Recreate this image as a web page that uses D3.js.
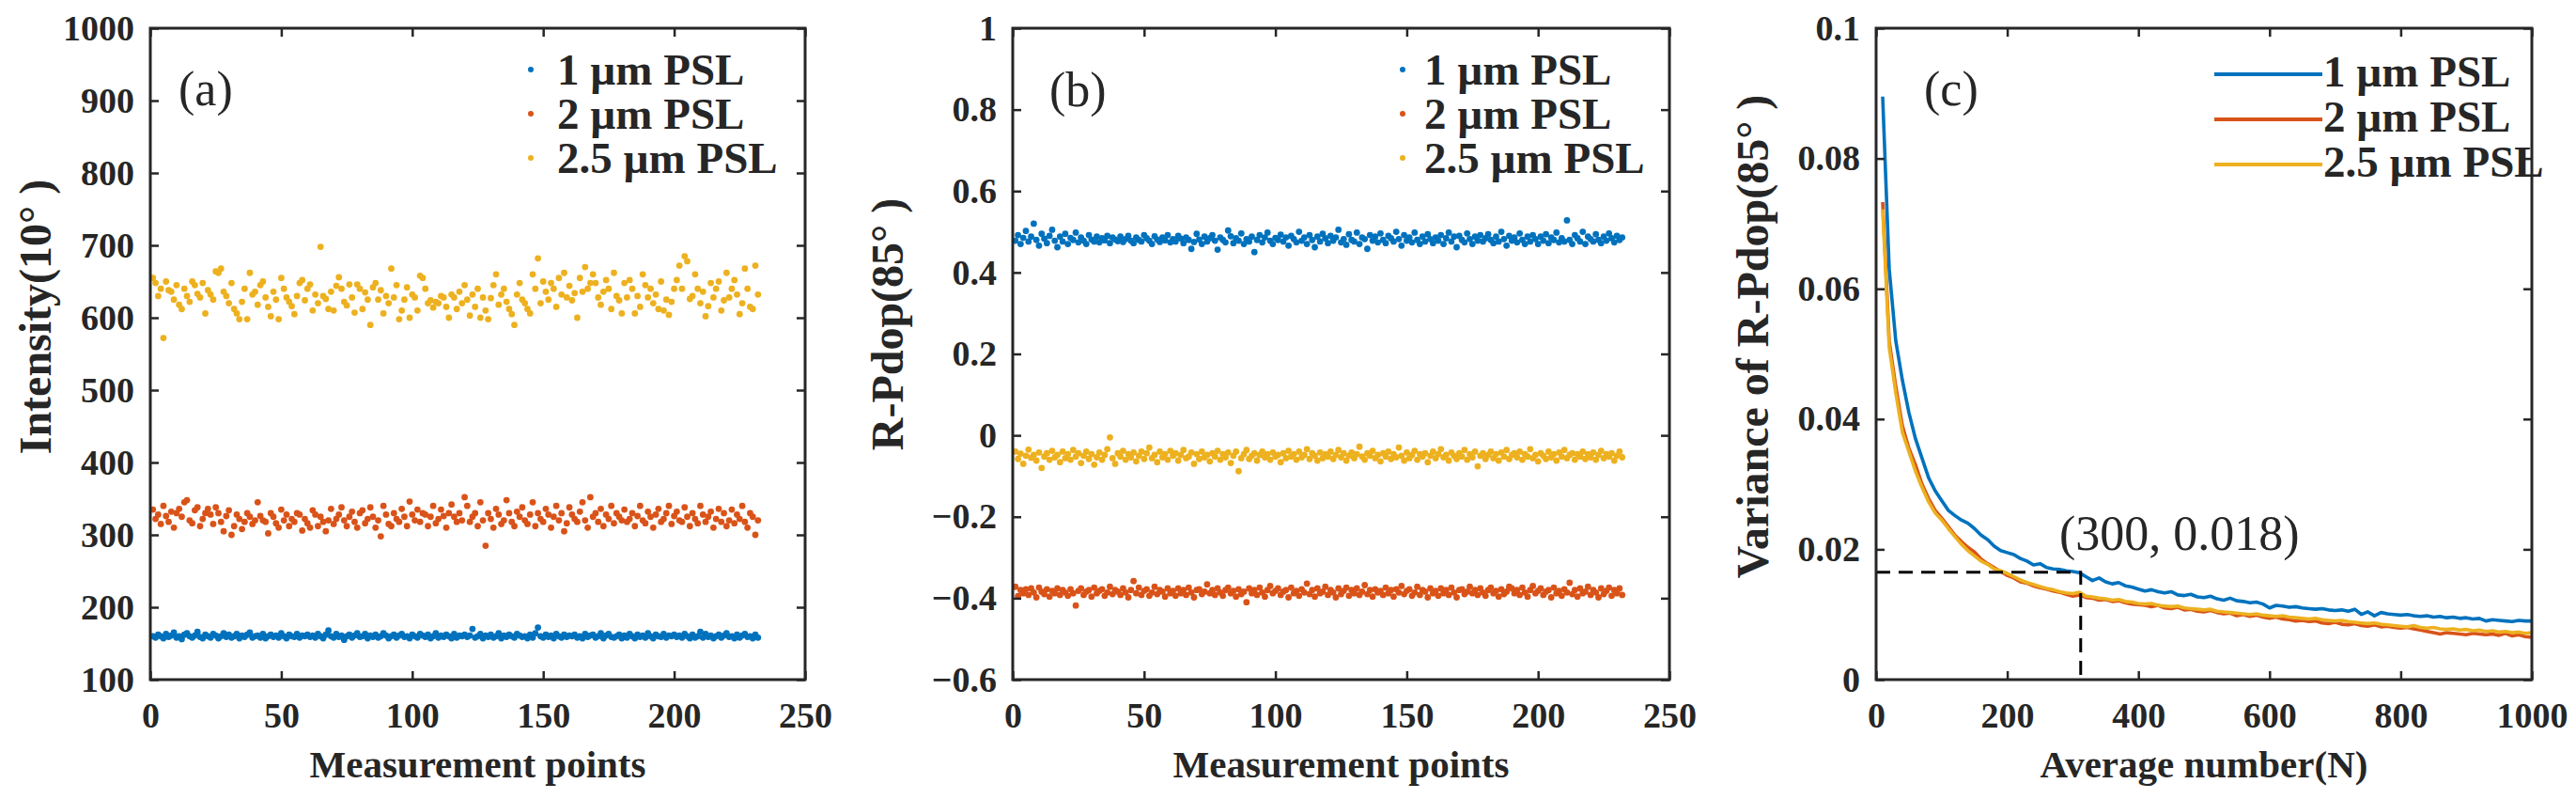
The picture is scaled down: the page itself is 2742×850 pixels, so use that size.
<!DOCTYPE html>
<html lang="en">
<head>
<meta charset="utf-8">
<title>PSL intensity, R-Pdop and variance</title>
<script src="https://d3js.org/d3.v7.min.js"></script>
<style>
  body{margin:0;background:#fff;}
  svg text{font-family:"Liberation Serif","Times New Roman",serif;fill:#262626;}
</style>
</head>
<body>
<svg id="fig" width="2742" height="850"></svg>
<script>
// ---------- data ----------
var seriesNames = ["1 µm PSL", "2 µm PSL", "2.5 µm PSL"]
var seriesColors = ["#0072BD", "#D95319", "#EDB120"]

// (a) Intensity(10°) per measurement point
var intensity1 = [160,158,162,160,157,163,159,161,165,158,160,156,162,164,160,158,161,166,159,157,
  162,160,158,163,161,157,160,164,159,162,158,160,163,157,161,159,162,165,158,160,
  161,158,163,157,160,162,159,161,158,164,160,157,162,160,159,163,158,161,160,162,
  159,161,158,163,160,157,162,168,160,158,163,159,161,155,160,162,158,161,164,159,
  160,163,157,161,159,162,158,160,164,161,157,160,162,158,161,163,159,160,157,162,
  160,158,163,161,159,162,157,160,164,158,161,159,162,160,157,163,158,161,160,162,
  159,161,170,158,160,163,157,161,159,162,158,160,164,157,161,159,162,160,158,163,
  161,159,160,157,162,158,164,172,160,158,162,159,161,157,163,160,158,162,159,161,
  160,162,158,160,157,163,159,161,162,158,160,164,157,161,163,159,158,160,162,157,
  161,158,163,160,157,162,159,161,158,164,160,157,162,160,159,163,158,161,160,162,
  159,161,158,163,160,157,162,158,160,166,158,163,159,161,157,160,162,158,161,164,
  159,160,157,162,158,161,163,159,160,157,162,158]
var intensity2 = [335,322,328,315,340,326,318,332,310,330,336,325,345,348,320,316,334,338,312,322,
  330,336,328,315,338,330,318,305,326,334,300,312,328,322,308,318,330,325,315,320,
  345,326,320,318,302,330,325,316,310,335,320,328,312,322,318,330,328,306,322,316,
  310,334,328,312,325,318,305,320,336,315,322,328,338,320,312,325,332,318,310,330,
  334,316,322,338,325,310,320,298,340,328,315,312,330,322,318,336,325,312,346,328,
  320,335,318,330,328,312,325,340,316,322,335,326,310,330,342,325,318,330,320,352,
  340,318,325,330,312,345,320,285,330,322,310,336,328,315,320,348,330,318,312,332,
  325,338,320,315,328,345,312,330,322,318,336,328,310,325,340,320,330,305,316,338,
  328,322,318,332,345,320,310,352,325,330,318,336,312,328,322,340,316,330,325,320,
  335,318,322,330,312,326,340,320,316,332,325,310,328,336,318,322,330,340,315,326,
  332,320,318,338,325,312,330,322,316,340,328,318,325,332,310,322,336,318,330,312,
  320,335,316,328,322,340,318,310,330,325,300,320]
var intensity3 = [655,648,630,640,572,650,638,636,625,645,618,612,640,630,622,650,645,633,628,648,
  606,638,632,625,664,662,668,636,630,620,648,612,606,598,622,640,598,662,632,636,
  618,645,650,628,615,602,636,625,598,655,640,628,622,616,605,630,648,652,624,640,
  646,610,632,620,698,630,626,612,636,610,644,656,640,622,617,646,628,607,646,640,
  612,635,625,590,642,648,625,638,606,630,620,668,628,645,598,610,625,642,600,632,
  628,610,658,655,640,620,624,614,622,620,630,628,615,600,632,628,612,636,620,645,
  625,603,632,615,640,600,628,610,598,627,645,660,618,632,640,622,612,605,590,632,
  648,625,620,612,606,660,640,682,620,650,636,625,648,640,615,655,632,662,628,644,
  624,634,600,655,636,670,640,648,660,648,628,618,636,652,640,612,662,630,624,606,
  648,628,652,640,606,630,615,660,645,628,640,620,632,612,650,610,625,604,622,640,
  652,672,640,685,678,626,630,660,640,620,636,602,616,648,628,640,650,610,624,662,
  628,640,652,632,605,620,668,640,615,612,672,632]

// (b) R-Pdop(85°) per measurement point
var pdop1 = [.478,.492,.470,.485,.502,.476,.488,.520,.480,.466,.495,.483,.472,.490,.505,.478,.462,.488,.476,.495,
  .470,.485,.480,.498,.474,.486,.478,.470,.492,.481,.476,.488,.474,.484,.479,.490,.472,.486,.481,.477,
  .488,.475,.482,.490,.478,.472,.486,.480,.476,.492,.484,.478,.470,.489,.481,.475,.486,.479,.492,.474,
  .482,.476,.490,.483,.472,.486,.480,.458,.475,.495,.481,.470,.488,.476,.484,.492,.478,.456,.486,.480,
  .474,.503,.489,.472,.484,.478,.496,.470,.482,.476,.488,.450,.480,.492,.474,.486,.498,.478,.470,.485,
  .480,.493,.476,.486,.466,.490,.482,.474,.500,.478,.486,.470,.492,.480,.462,.488,.476,.495,.484,.472,
  .490,.478,.486,.505,.474,.482,.468,.494,.480,.476,.498,.470,.486,.482,.458,.492,.478,.488,.474,.496,
  .480,.472,.490,.484,.476,.500,.482,.466,.492,.478,.486,.474,.498,.480,.470,.488,.476,.494,.482,.472,
  .486,.478,.492,.470,.484,.498,.476,.488,.462,.490,.480,.474,.496,.482,.470,.488,.478,.492,.476,.484,
  .494,.480,.472,.488,.476,.500,.482,.466,.490,.478,.486,.474,.496,.480,.470,.488,.476,.492,.482,.470,
  .488,.478,.494,.472,.486,.480,.498,.474,.484,.476,.528,.480,.470,.492,.484,.476,.500,.470,.488,.482,
  .476,.494,.480,.472,.488,.478,.496,.484,.474,.490,.480,.486]
var pdop2 = [-.372,-.395,-.380,-.388,-.378,-.392,-.376,-.386,-.398,-.374,-.384,-.390,-.378,-.396,-.382,-.388,-.376,-.392,-.380,-.386,
  -.394,-.378,-.388,-.418,-.382,-.376,-.392,-.384,-.380,-.396,-.374,-.388,-.382,-.378,-.394,-.386,-.372,-.390,-.380,-.384,
  -.392,-.376,-.386,-.398,-.380,-.358,-.388,-.374,-.392,-.382,-.378,-.394,-.386,-.372,-.390,-.380,-.384,-.396,-.376,-.388,
  -.382,-.394,-.376,-.388,-.380,-.392,-.374,-.386,-.398,-.380,-.378,-.390,-.384,-.366,-.388,-.380,-.392,-.376,-.386,-.394,
  -.380,-.374,-.388,-.382,-.396,-.378,-.390,-.384,-.410,-.376,-.388,-.380,-.392,-.374,-.386,-.396,-.380,-.370,-.388,-.382,
  -.376,-.392,-.384,-.380,-.398,-.374,-.388,-.382,-.394,-.378,-.386,-.364,-.390,-.380,-.396,-.376,-.388,-.384,-.372,-.392,
  -.380,-.386,-.398,-.376,-.390,-.382,-.374,-.394,-.380,-.388,-.376,-.392,-.384,-.368,-.390,-.380,-.396,-.378,-.386,-.382,
  -.392,-.374,-.388,-.380,-.396,-.378,-.386,-.370,-.390,-.382,-.378,-.394,-.386,-.372,-.392,-.380,-.384,-.398,-.376,-.388,
  -.382,-.394,-.376,-.388,-.380,-.392,-.374,-.386,-.398,-.380,-.378,-.390,-.384,-.372,-.388,-.380,-.392,-.376,-.386,-.394,
  -.380,-.374,-.388,-.382,-.396,-.378,-.390,-.384,-.372,-.376,-.388,-.380,-.392,-.374,-.386,-.396,-.380,-.370,-.388,-.382,
  -.376,-.392,-.384,-.380,-.398,-.374,-.388,-.382,-.394,-.378,-.386,-.362,-.390,-.380,-.396,-.376,-.388,-.384,-.372,-.392,
  -.380,-.386,-.398,-.376,-.390,-.382,-.374,-.394,-.380,-.388,-.376,-.392]
var pdop3 = [-.040,-.058,-.045,-.070,-.050,-.035,-.055,-.048,-.062,-.042,-.080,-.052,-.044,-.060,-.038,-.054,-.048,-.066,-.040,-.056,
  -.046,-.060,-.036,-.052,-.044,-.068,-.050,-.040,-.058,-.046,-.072,-.054,-.042,-.060,-.048,-.034,-.005,-.056,-.070,-.044,
  -.052,-.038,-.060,-.046,-.054,-.042,-.064,-.050,-.040,-.058,-.044,-.030,-.056,-.048,-.066,-.040,-.054,-.046,-.060,-.038,
  -.050,-.044,-.062,-.048,-.036,-.056,-.052,-.042,-.070,-.046,-.058,-.040,-.054,-.048,-.064,-.044,-.052,-.038,-.060,-.046,
  -.054,-.042,-.068,-.050,-.040,-.088,-.056,-.046,-.036,-.058,-.050,-.044,-.062,-.048,-.040,-.054,-.046,-.060,-.042,-.052,
  -.048,-.066,-.044,-.056,-.038,-.052,-.046,-.060,-.040,-.054,-.048,-.034,-.058,-.044,-.050,-.062,-.042,-.056,-.046,-.052,
  -.040,-.058,-.048,-.036,-.054,-.044,-.062,-.050,-.042,-.056,-.046,-.028,-.052,-.060,-.044,-.050,-.038,-.056,-.048,-.064,
  -.044,-.052,-.040,-.058,-.046,-.054,-.030,-.050,-.062,-.042,-.056,-.048,-.038,-.060,-.046,-.052,-.044,-.066,-.050,-.040,
  -.056,-.046,-.034,-.054,-.048,-.062,-.042,-.050,-.058,-.044,-.052,-.036,-.060,-.046,-.054,-.040,-.076,-.050,-.044,-.058,
  -.048,-.040,-.056,-.046,-.062,-.042,-.052,-.036,-.058,-.048,-.044,-.054,-.040,-.060,-.046,-.052,-.034,-.056,-.048,-.064,
  -.044,-.050,-.058,-.040,-.054,-.046,-.062,-.042,-.052,-.036,-.056,-.048,-.044,-.060,-.046,-.052,-.040,-.058,-.046,-.054,
  -.042,-.060,-.048,-.038,-.056,-.046,-.052,-.044,-.062,-.050,-.040,-.054]

// (c) variance of R-Pdop(85°) vs average number N (N = 10, 20, ... 1000)
var avgN = d3.range(10, 1001, 10)
var var1 = [.0895,.063,.052,.046,.041,.037,.034,.031,.029,.0275,
  .026,.0252,.0245,.024,.0232,.0222,.0215,.0205,.0198,.0195,
  .0192,.0186,.0182,.0176,.0178,.0172,.0170,.0169,.0167,.0166,
  .0164,.0158,.0152,.0156,.0150,.0147,.0149,.0144,.0142,.0139,
  .0136,.0138,.0135,.0133,.0135,.0130,.0129,.0131,.0127,.0126,
  .0128,.0124,.0122,.0125,.0121,.0120,.0118,.0119,.0116,.0110,
  .0114,.0113,.0111,.0112,.0110,.0109,.0108,.0109,.0107,.0106,
  .0107,.0105,.0108,.0100,.0104,.0098,.0103,.0101,.0100,.0099,
  .0100,.0098,.0097,.0098,.0096,.0097,.0095,.0096,.0094,.0095,
  .0093,.0094,.0090,.0092,.0091,.0090,.0089,.0091,.0090,.0090]
var var2 = [.0733,.052,.045,.039,.0355,.033,.030,.0278,.026,.0248,
  .0235,.0222,.0212,.0203,.0196,.0185,.0178,.0172,.0166,.0160,
  .0156,.0150,.0148,.0144,.0141,.0139,.0136,.0134,.0131,.0128,
  .0130,.0126,.0125,.0122,.0123,.0120,.0121,.0118,.0116,.0115,
  .0114,.0112,.0114,.0110,.0109,.0111,.0107,.0108,.0105,.0104,
  .0106,.0103,.0101,.0102,.0098,.0100,.0097,.0099,.0096,.0094,
  .0096,.0093,.0092,.0090,.0091,.0089,.0090,.0087,.0086,.0088,
  .0085,.0084,.0086,.0083,.0082,.0084,.0081,.0082,.0080,.0079,
  .0080,.0078,.0076,.0074,.0072,.0070,.0072,.0071,.0070,.0069,
  .0071,.0070,.0069,.0070,.0068,.0071,.0067,.0069,.0066,.0065]
var var3 = [.0722,.051,.044,.038,.035,.032,.0295,.0273,.0256,.0245,
  .0232,.0220,.0208,.0198,.0190,.0182,.0177,.0170,.0167,.0163,
  .0158,.0153,.0149,.0146,.0143,.0140,.0138,.0135,.0133,.0132,
  .0134,.0128,.0127,.0125,.0124,.0122,.0123,.0120,.0119,.0117,
  .0116,.0117,.0114,.0113,.0112,.0113,.0110,.0109,.0108,.0107,
  .0108,.0105,.0104,.0103,.0102,.0101,.0100,.0101,.0099,.0098,
  .0097,.0098,.0096,.0095,.0094,.0093,.0094,.0092,.0091,.0090,
  .0091,.0089,.0088,.0087,.0086,.0087,.0085,.0084,.0083,.0082,
  .0081,.0083,.0080,.0079,.0080,.0078,.0077,.0078,.0076,.0077,
  .0075,.0076,.0074,.0075,.0073,.0074,.0072,.0073,.0071,.0072]

// marked point in (c)
var markN = 312, markV = 0.0165, markLabel = "(300, 0.018)"

// tick values
var ticksA = {x:[0,50,100,150,200,250], y:[100,200,300,400,500,600,700,800,900,1000]}
var ticksB = {x:[0,50,100,150,200,250], y:[-0.6,-0.4,-0.2,0,0.2,0.4,0.6,0.8,1]}
var ticksC = {x:[0,200,400,600,800,1000], y:[0,0.02,0.04,0.06,0.08,0.1]}

// ---------- layout ----------
var ink = "#262626"
var plotTop = 30, plotH = 693
var svg = d3.select("#fig")

function makePanel(left, width, xDomain, yDomain, ticks, fmt){
  var g = svg.append("g").attr("transform","translate("+left+","+plotTop+")")
  var x = d3.scaleLinear().domain(xDomain).range([0,width])
  var y = d3.scaleLinear().domain(yDomain).range([plotH,0])
  var plot = g.append("g")
  var ax = g.append("g")
  ax.append("g").attr("transform","translate(0,"+plotH+")")
    .call(d3.axisBottom(x).tickValues(ticks.x).tickSizeInner(-9).tickSizeOuter(0).tickPadding(24).tickFormat(d3.format("~g")))
  ax.append("g")
    .call(d3.axisTop(x).tickValues(ticks.x).tickSizeInner(-9).tickSizeOuter(0).tickFormat(""))
  ax.append("g")
    .call(d3.axisLeft(y).tickValues(ticks.y).tickSizeInner(-9).tickSizeOuter(0).tickPadding(17).tickFormat(fmt))
  ax.append("g").attr("transform","translate("+width+",0)")
    .call(d3.axisRight(y).tickValues(ticks.y).tickSizeInner(-9).tickSizeOuter(0).tickFormat(""))
  ax.selectAll(".domain").remove()
  ax.selectAll(".tick line").attr("stroke",ink).attr("stroke-width",2.5)
  ax.selectAll(".tick text").attr("font-size",38).attr("font-weight","bold").attr("fill",ink)
  g.append("rect").attr("width",width).attr("height",plotH)
    .attr("fill","none").attr("stroke",ink).attr("stroke-width",3)
  return {g:g, plot:plot, x:x, y:y, width:width}
}

function scatter(p, values, color){
  p.plot.append("g").selectAll("circle").data(values).enter().append("circle")
    .attr("cx", function(d,i){ return p.x(i+1) })
    .attr("cy", function(d){ return p.y(d) })
    .attr("r", 3.4)
    .attr("fill", color)
}

function xTitle(p, text){
  p.g.append("text").attr("x",p.width/2).attr("y",plotH+104)
    .attr("text-anchor","middle").attr("font-size",41).attr("font-weight","bold").text(text)
}
function yTitle(x, cy, text){
  svg.append("text").attr("transform","translate("+x+","+cy+") rotate(-90)")
    .attr("text-anchor","middle").attr("font-size",48).attr("font-weight","bold").text(text)
}
function panelTag(x, y, text){
  svg.append("text").attr("x",x).attr("y",y).attr("font-size",52).text(text)
}
function dotLegend(dx, tx){
  seriesNames.forEach(function(name,i){
    svg.append("circle").attr("cx",dx).attr("cy",74+i*47).attr("r",3).attr("fill",seriesColors[i])
    svg.append("text").attr("x",tx).attr("y",90+i*47).attr("font-size",47).attr("font-weight","bold")
      .attr("fill","#000").text(name)
  })
}

var fmtTick = d3.format("~g")

// ---------- (a) ----------
var pa = makePanel(160, 697, [0,250], [100,1000], ticksA, fmtTick)
scatter(pa, intensity1, seriesColors[0])
scatter(pa, intensity2, seriesColors[1])
scatter(pa, intensity3, seriesColors[2])
xTitle(pa, "Measurement points")
yTitle(54, 337, "Intensity(10° )")
panelTag(190, 112, "(a)")
dotLegend(565, 593)

// ---------- (b) ----------
var pb = makePanel(1078, 699, [0,250], [-0.6,1], ticksB, fmtTick)
scatter(pb, pdop1, seriesColors[0])
scatter(pb, pdop2, seriesColors[1])
scatter(pb, pdop3, seriesColors[2])
xTitle(pb, "Measurement points")
yTitle(961, 345, "R-Pdop(85° )")
panelTag(1117, 113, "(b)")
dotLegend(1493, 1516)

// ---------- (c) ----------
var pc = makePanel(1997, 698, [0,1000], [0,0.1], ticksC, fmtTick)
var line = d3.line().x(function(d){ return pc.x(d.n) }).y(function(d){ return pc.y(d.v) })
;[var1, var2, var3].forEach(function(vals, k){
  var pts = vals.map(function(v,i){ return {n:avgN[i], v:v} })
  pc.plot.append("path").datum(pts).attr("d",line)
    .attr("fill","none").attr("stroke",seriesColors[k]).attr("stroke-width",3.6)
    .attr("stroke-linejoin","round")
})
pc.plot.append("path")
  .attr("d", d3.line()([[pc.x(0),pc.y(markV)],[pc.x(markN),pc.y(markV)],[pc.x(markN),pc.y(0)]]))
  .attr("fill","none").attr("stroke","#000").attr("stroke-width",3).attr("stroke-dasharray","15,9")
svg.append("text").attr("x",2192).attr("y",585).attr("font-size",52).text(markLabel)
xTitle(pc, "Average number(N)")
yTitle(1882, 358, "Variance of R-Pdop(85° )")
panelTag(2048, 112, "(c)")
seriesNames.forEach(function(name,i){
  svg.append("line").attr("x1",2357).attr("x2",2472).attr("y1",79+i*48).attr("y2",79+i*48)
    .attr("stroke",seriesColors[i]).attr("stroke-width",4)
  svg.append("text").attr("x",2473).attr("y",92+i*48).attr("font-size",47).attr("font-weight","bold")
    .attr("fill","#000").text(name)
})
</script>
</body>
</html>
